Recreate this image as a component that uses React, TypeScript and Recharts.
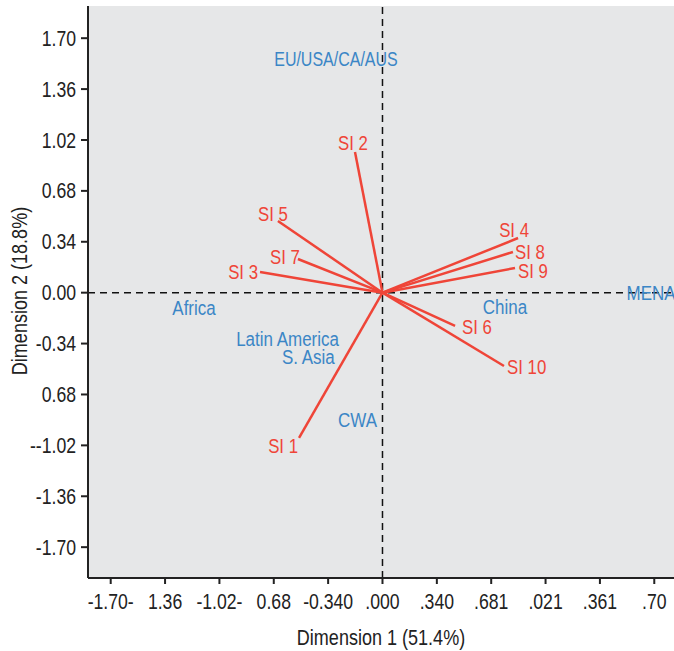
import React from 'react';
import {
  ComposedChart,
  Scatter,
  XAxis,
  YAxis,
  CartesianGrid,
  ReferenceLine
} from 'recharts';

// Axis ticks and the (odd) labels printed under them
const xTicks = [-1.7, -1.36, -1.02, -0.68, -0.34, 0, 0.34, 0.68, 1.02, 1.36, 1.7];
const xTickLabels = ['-1.70-', '1.36', '-1.02-', '0.68', '-0.340', '.000', '.340', '.681', '.021', '.361', '.70'];
const yTicks = [-1.7, -1.36, -1.02, -0.68, -0.34, 0, 0.34, 0.68, 1.02, 1.36, 1.7];
const yTickLabels = ['-1.70', '-1.36', '--1.02', '0.68', '-0.34', '0.00', '0.34', '0.68', '1.02', '1.36', '1.70'];

// SI vectors (dimension 1, dimension 2)
const siNames = ['SI 1', 'SI 2', 'SI 3', 'SI 4', 'SI 5', 'SI 6', 'SI 7', 'SI 8', 'SI 9', 'SI 10'];
const siDim1 = [-0.522, -0.172, -0.766, 0.848, -0.654, 0.454, -0.529, 0.816, 0.829, 0.76];
const siDim2 = [-0.97, 0.94, 0.138, 0.365, 0.479, -0.222, 0.225, 0.272, 0.165, -0.49];

// Region points
const regionNames = ['EU/USA/CA/AUS', 'Africa', 'Latin America', 'S. Asia', 'CWA', 'China', 'MENA'];
const regionDim1 = [-0.291, -1.179, -0.594, -0.464, -0.156, 0.766, 1.68];
const regionDim2 = [1.559, -0.104, -0.311, -0.432, -0.85, -0.094, -0.004];

const RED = '#ef4538';
const BLUE = '#3b86c6';
const INK = '#222';
const FONT = "'Liberation Sans', Arial, sans-serif";
const NARROW = 0.82; // squeeze Arial-metric text to look like a condensed grotesque

// where each SI label sits relative to its arrow tip
const siLabelPlacement: Record<string, { anchor: 'start' | 'middle' | 'end'; dx: number; dy: number }> = {
  'SI 1': { anchor: 'end', dx: -1, dy: 8 },
  'SI 2': { anchor: 'middle', dx: -2, dy: -9 },
  'SI 3': { anchor: 'end', dx: -2, dy: 0 },
  'SI 4': { anchor: 'middle', dx: -4, dy: -8 },
  'SI 5': { anchor: 'middle', dx: -5, dy: -7 },
  'SI 6': { anchor: 'start', dx: 7, dy: 1 },
  'SI 7': { anchor: 'end', dx: 2, dy: -2 },
  'SI 8': { anchor: 'start', dx: 2, dy: 0 },
  'SI 9': { anchor: 'start', dx: 3, dy: 3 },
  'SI 10': { anchor: 'start', dx: 3, dy: 1 }
};

const siData = siNames.map((name, i) => ({ name, x: siDim1[i], y: siDim2[i] }));
const regionData = regionNames.map((name, i) => ({ name, x: regionDim1[i], y: regionDim2[i] }));

const X_DOMAIN: [number, number] = [-1.842, 1.986];
const Y_DOMAIN: [number, number] = [-1.906, 1.915];

const NText = ({ x, y, anchor = 'middle', fill = INK, size = 20, dy = '0.35em', rotate = false, squeeze = NARROW, children }: any) => (
  <text
    transform={`translate(${x} ${y})${rotate ? ' rotate(-90)' : ''} scale(${squeeze} 1)`}
    textAnchor={anchor}
    dy={dy}
    fill={fill}
    fontSize={size}
    fontFamily={FONT}
  >
    {children}
  </text>
);

const SiLabel = (props: any) => {
  const { cx, cy, payload } = props;
  const p = siLabelPlacement[payload.name];
  return (
    <NText x={cx + p.dx} y={cy + p.dy} anchor={p.anchor} fill={RED} size={20.5}>
      {payload.name}
    </NText>
  );
};

const RegionLabel = (props: any) => {
  const { cx, cy, payload } = props;
  return (
    <NText x={cx} y={cy} fill={BLUE} size={19.5} squeeze={payload.name === 'EU/USA/CA/AUS' ? 0.82 : 0.87}>
      {payload.name}
    </NText>
  );
};

const XTick = (props: any) => {
  const { x, y, payload } = props;
  return (
    <NText x={x} y={y} dy="0.71em" size={21.5}>
      {xTickLabels[xTicks.indexOf(payload.value)] ?? ''}
    </NText>
  );
};

const YTick = (props: any) => {
  const { x, y, payload } = props;
  return (
    <NText x={x} y={y} anchor="end" size={21.5}>
      {yTickLabels[yTicks.indexOf(payload.value)] ?? ''}
    </NText>
  );
};

export default function App() {
  return (
    <div style={{ position: 'absolute', left: 0, top: 0, width: 674, height: 651, overflow: 'hidden', background: '#fff' }}>
      <ComposedChart
        width={720}
        height={651}
        margin={{ top: 6, right: 20, bottom: 0, left: 0 }}
      >
        <CartesianGrid fill="#e6e7e8" horizontal={false} vertical={false} />
        <XAxis
          type="number"
          dataKey="x"
          domain={X_DOMAIN}
          ticks={xTicks}
          allowDataOverflow
          height={73}
          axisLine={{ stroke: INK, strokeWidth: 2 }}
          tickLine={{ stroke: INK, strokeWidth: 2 }}
          tickSize={6}
          tickMargin={10}
          tick={XTick}
          interval={0}
          label={() => (
            <NText x={381} y={637} size={22}>
              Dimension 1 (51.4%)
            </NText>
          )}
        />
        <XAxis
          xAxisId="top"
          type="number"
          orientation="top"
          domain={X_DOMAIN}
          height={0}
          tick={false}
          tickLine={false}
          axisLine={{ stroke: INK, strokeWidth: 2 }}
        />
        <YAxis
          type="number"
          dataKey="y"
          domain={Y_DOMAIN}
          ticks={yTicks}
          allowDataOverflow
          width={88}
          axisLine={{ stroke: INK, strokeWidth: 2 }}
          tickLine={{ stroke: INK, strokeWidth: 2 }}
          tickSize={7}
          tickMargin={5}
          tick={YTick}
          interval={0}
          label={() => (
            <NText x={19} y={291} size={22} rotate>
              Dimension 2 (18.8%)
            </NText>
          )}
        />

        <ReferenceLine x={0} stroke="#111" strokeWidth={1.5} strokeDasharray="7 5" />
        <ReferenceLine y={0} stroke="#111" strokeWidth={1.5} strokeDasharray="7 5" />

        {siData.map((d) => (
          <ReferenceLine
            key={d.name}
            segment={[{ x: 0, y: 0 }, { x: d.x, y: d.y }]}
            stroke={RED}
            strokeWidth={2.5}
          />
        ))}

        <Scatter data={regionData} shape={RegionLabel} isAnimationActive={false} />
        <Scatter data={siData} shape={SiLabel} isAnimationActive={false} />
      </ComposedChart>
    </div>
  );
}
